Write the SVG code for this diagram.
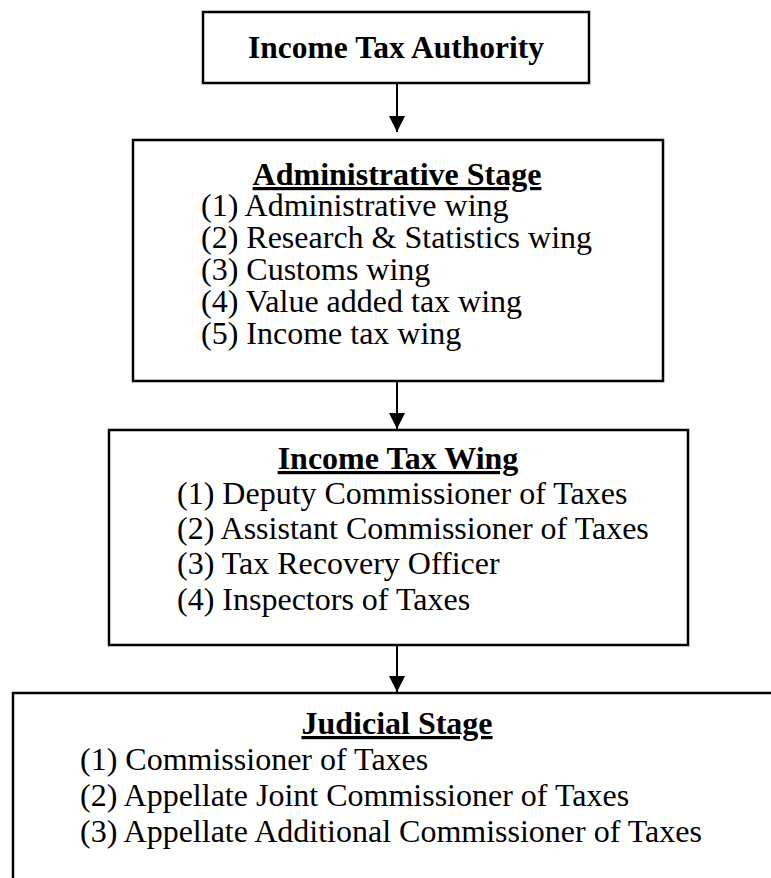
<svg xmlns="http://www.w3.org/2000/svg" width="771" height="878" viewBox="0 0 771 878">
<defs>
<style>
.box{fill:#fff;stroke:#000;stroke-width:2.5}
.t{font-family:"Liberation Serif","Times New Roman",serif;font-size:32px;fill:#000}
.h{font-family:"Liberation Serif","Times New Roman",serif;font-size:32px;font-weight:bold;fill:#000;text-anchor:middle}
.u{text-decoration:underline}
.c{stroke:#000;stroke-width:2;fill:none}
</style>
<marker id="ah" viewBox="0 0 16 16" refX="16" refY="8" markerWidth="16" markerHeight="16" markerUnits="userSpaceOnUse" orient="auto">
<path d="M0,0 L16,8 L0,16 Z" fill="#000"/>
</marker>
</defs>
<rect width="771" height="878" fill="#fff"/>
<g id="connectors">
<line class="c" x1="397" y1="83" x2="397" y2="132" marker-end="url(#ah)"/>
<line class="c" x1="397" y1="381" x2="397" y2="429" marker-end="url(#ah)"/>
<line class="c" x1="397" y1="645" x2="397" y2="692" marker-end="url(#ah)"/>
</g>
<g id="node-authority">
<rect class="box" x="203" y="12" width="386" height="71"/>
<text class="h" x="396" y="58" style="font-size:31.5px">Income Tax Authority</text>
</g>
<g id="node-administrative">
<rect class="box" x="133" y="140" width="530" height="241"/>
<text class="h u" x="397" y="185">Administrative Stage</text>
<text class="t" x="201" y="216">(1) Administrative wing</text>
<text class="t" x="201" y="248">(2) Research &amp; Statistics wing</text>
<text class="t" x="201" y="280">(3) Customs wing</text>
<text class="t" x="201" y="312">(4) Value added tax wing</text>
<text class="t" x="201" y="344">(5) Income tax wing</text>
</g>
<g id="node-income-tax-wing">
<rect class="box" x="109" y="430" width="579" height="215"/>
<text class="h u" x="398" y="469">Income Tax Wing</text>
<text class="t" x="177" y="504">(1) Deputy Commissioner of Taxes</text>
<text class="t" x="177" y="539">(2) Assistant Commissioner of Taxes</text>
<text class="t" x="177" y="574">(3) Tax Recovery Officer</text>
<text class="t" x="177" y="610">(4) Inspectors of Taxes</text>
</g>
<g id="node-judicial">
<rect class="box" x="13" y="693" width="780" height="200"/>
<text class="h u" x="397" y="734">Judicial Stage</text>
<text class="t" x="80" y="770">(1) Commissioner of Taxes</text>
<text class="t" x="80" y="806">(2) Appellate Joint Commissioner of Taxes</text>
<text class="t" x="80" y="842">(3) Appellate Additional Commissioner of Taxes</text>
</g>
</svg>
